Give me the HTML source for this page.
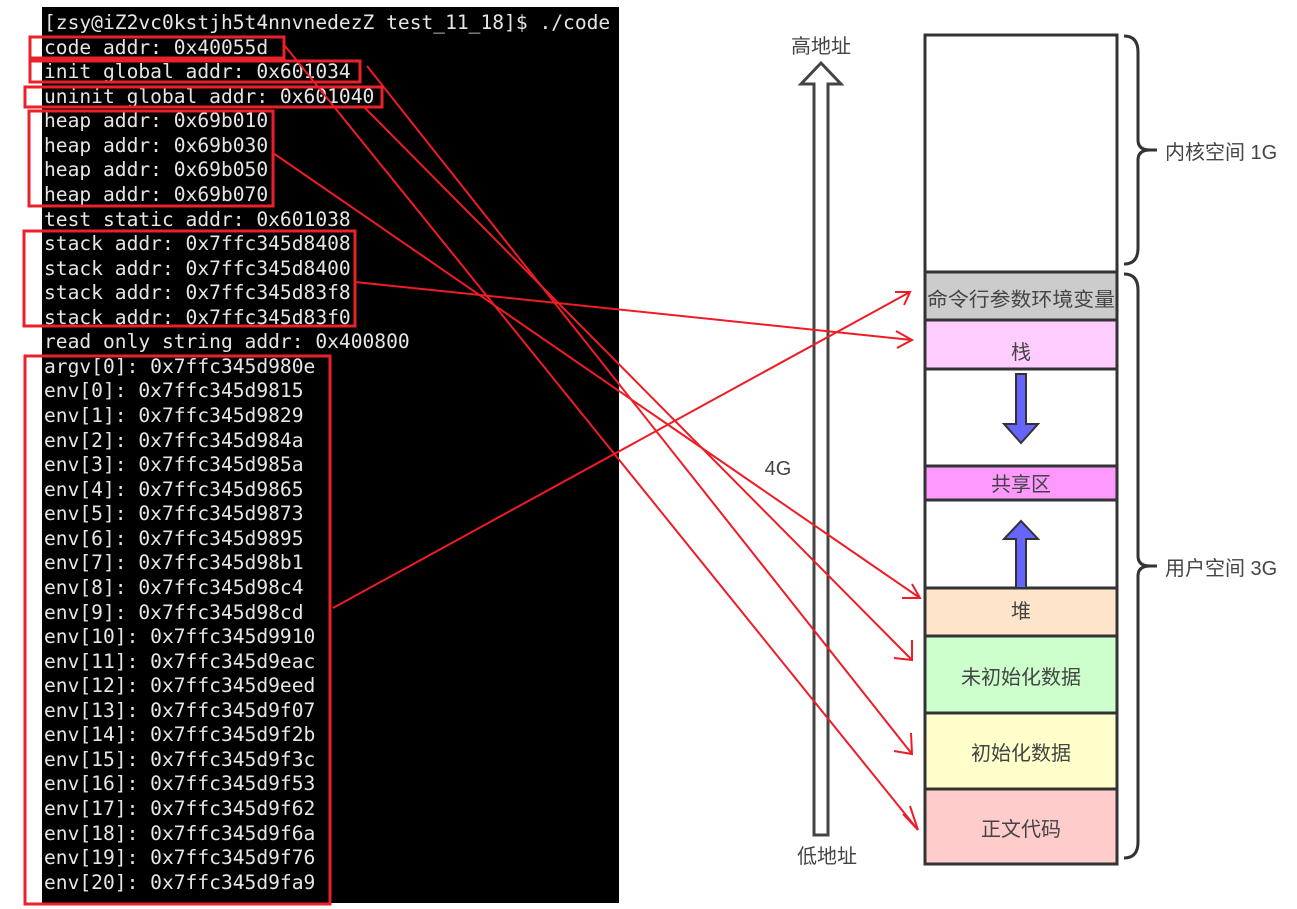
<!DOCTYPE html>
<html><head><meta charset="utf-8"><style>
html,body{margin:0;padding:0;background:#fff;}
body{width:1297px;height:909px;position:relative;overflow:hidden;}
#term{position:absolute;left:42px;top:7px;width:577px;height:896px;background:#000;}
pre{position:absolute;left:44px;top:11px;margin:0;font-family:"DejaVu Sans Mono","Liberation Mono",monospace;font-size:19.6px;line-height:24.57px;color:#e6e6e6;}
svg{position:absolute;left:0;top:0;}
.cj{font-family:"Liberation Sans","Noto Sans CJK SC",sans-serif;fill:#444;}
</style></head><body>
<div id="term"></div>
<pre>[zsy@iZ2vc0kstjh5t4nnvnedezZ test_11_18]$ ./code
code addr: 0x40055d
init global addr: 0x601034
uninit global addr: 0x601040
heap addr: 0x69b010
heap addr: 0x69b030
heap addr: 0x69b050
heap addr: 0x69b070
test static addr: 0x601038
stack addr: 0x7ffc345d8408
stack addr: 0x7ffc345d8400
stack addr: 0x7ffc345d83f8
stack addr: 0x7ffc345d83f0
read only string addr: 0x400800
argv[0]: 0x7ffc345d980e
env[0]: 0x7ffc345d9815
env[1]: 0x7ffc345d9829
env[2]: 0x7ffc345d984a
env[3]: 0x7ffc345d985a
env[4]: 0x7ffc345d9865
env[5]: 0x7ffc345d9873
env[6]: 0x7ffc345d9895
env[7]: 0x7ffc345d98b1
env[8]: 0x7ffc345d98c4
env[9]: 0x7ffc345d98cd
env[10]: 0x7ffc345d9910
env[11]: 0x7ffc345d9eac
env[12]: 0x7ffc345d9eed
env[13]: 0x7ffc345d9f07
env[14]: 0x7ffc345d9f2b
env[15]: 0x7ffc345d9f3c
env[16]: 0x7ffc345d9f53
env[17]: 0x7ffc345d9f62
env[18]: 0x7ffc345d9f6a
env[19]: 0x7ffc345d9f76
env[20]: 0x7ffc345d9fa9</pre>
<svg width="1297" height="909" viewBox="0 0 1297 909">
<path d="M814,835 L814,84 L801,84 L821,63 L841,84 L828,84 L828,835 Z" fill="#fff" stroke="#444" stroke-width="3"/>
<text x="821" y="53" class="cj" font-size="20" text-anchor="middle">高地址</text>
<text x="827" y="863" class="cj" font-size="20" text-anchor="middle">低地址</text>
<text x="778" y="475" class="cj" font-size="20" text-anchor="middle">4G</text>
<g stroke="#333" stroke-width="3">
<rect x="925" y="35" width="192" height="237" fill="#fff"/>
<rect x="925" y="272" width="192" height="48" fill="#cccccc"/>
<rect x="925" y="320" width="192" height="49" fill="#ffccff"/>
<rect x="925" y="369" width="192" height="97" fill="#fff"/>
<rect x="925" y="466" width="192" height="34" fill="#ff99ff"/>
<rect x="925" y="500" width="192" height="88" fill="#fff"/>
<rect x="925" y="588" width="192" height="48" fill="#ffe4cc"/>
<rect x="925" y="636" width="192" height="77" fill="#ccffcc"/>
<rect x="925" y="713" width="192" height="76" fill="#ffffcc"/>
<rect x="925" y="789" width="192" height="75" fill="#ffcccc"/>
</g>
<text x="1021" y="306" class="cj" font-size="19.5" text-anchor="middle" textLength="188" lengthAdjust="spacingAndGlyphs">命令行参数环境变量</text>
<text x="1021" y="359" class="cj" font-size="20" text-anchor="middle">栈</text>
<text x="1021" y="491" class="cj" font-size="20" text-anchor="middle">共享区</text>
<text x="1021" y="618" class="cj" font-size="20" text-anchor="middle">堆</text>
<text x="1021" y="684" class="cj" font-size="20" text-anchor="middle">未初始化数据</text>
<text x="1021" y="760" class="cj" font-size="20" text-anchor="middle">初始化数据</text>
<text x="1021" y="836" class="cj" font-size="20" text-anchor="middle">正文代码</text>
<path d="M1016,374 L1026,374 L1026,424 L1038,424 L1021,443 L1004,424 L1016,424 Z" fill="#6666ff" stroke="#333" stroke-width="2"/>
<path d="M1016,588 L1026,588 L1026,539 L1038,539 L1021,521 L1004,539 L1016,539 Z" fill="#6666ff" stroke="#333" stroke-width="2"/>
<path d="M1124,36 Q1138,36 1138,52 L1138,140 Q1138,150 1150,150 L1157,150 M1150,150 Q1138,150 1138,160 L1138,248 Q1138,264 1124,264" fill="none" stroke="#333" stroke-width="3"/>
<path d="M1124,274 Q1138,274 1138,290 L1138,556 Q1138,566 1150,566 L1157,566 M1150,566 Q1138,566 1138,576 L1138,842 Q1138,858 1124,858" fill="none" stroke="#333" stroke-width="3"/>
<text x="1165" y="159" class="cj" font-size="20">内核空间 1G</text>
<text x="1165" y="575" class="cj" font-size="20">用户空间 3G</text>
<g fill="none" stroke="#e8212b" stroke-width="3">
<rect x="30" y="37" width="254" height="21"/>
<rect x="30" y="61" width="330" height="21"/>
<rect x="25" y="87" width="357" height="20"/>
<rect x="29" y="111" width="244" height="95"/>
<rect x="24" y="231" width="331" height="95"/>
<rect x="25" y="356" width="305" height="548"/>
</g>
<g fill="none" stroke="#ee1c24" stroke-width="2">
<path d="M285,46 L918,830 M903,814 L918,830 L910,806"/>
<path d="M367,66 L912,754 M894,751 L912,754 L911,733"/>
<path d="M365,108 L912,660 M894,658 L912,660 L912,640"/>
<path d="M273,153 L920,598 M902,598 L920,598 L912,584"/>
<path d="M355,282 L912,340 M896,331 L912,340 L897,348"/>
<path d="M333,608 L910,292 M895,292 L910,292 L904,305"/>
</g>
</svg>
</body></html>
